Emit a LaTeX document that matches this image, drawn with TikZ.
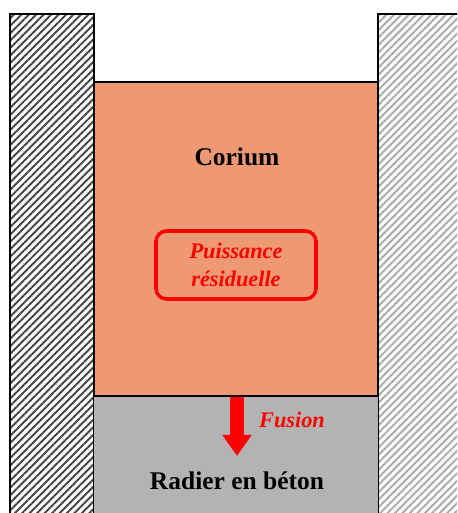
\documentclass[tikz,border=0pt]{standalone}
\usepackage{fontspec}
\setmainfont{Liberation Serif}
\usetikzlibrary{patterns.meta,arrows.meta}
\definecolor{coriumorange}{RGB}{238,152,116}
\definecolor{betongray}{RGB}{179,179,179}
\definecolor{hatchdark}{RGB}{70,70,70}
\definecolor{hatchlight}{RGB}{170,170,170}
\tikzset{
  hatch/.style={fill=white,postaction={pattern={Lines[angle=45,distance=3pt,line width=1.1pt]},pattern color=#1}},
  border/.style={draw=black,line width=1.2pt},
  label/.style={font=\fontsize{14.5}{17}\selectfont\bfseries},
  redtext/.style={text=red,font=\fontsize{12.7}{15.5}\selectfont\bfseries\itshape,align=center}
}
\begin{document}
\begin{tikzpicture}[x=0.02cm,y=-0.02cm]
			\useasboundingbox (0,0) rectangle (457,513);
			\clip (0,0) rectangle (457,513);
			
			% Draw the two walls
			\path[hatch=hatchdark] (10,14) rectangle (94,530);
			\draw[border] (10,530) -- (10,14) -- (94,14) -- (94,530);
			\path[hatch=hatchlight] (378,14) rectangle (470,530);
			\draw[border] (470,14) -- (378,14) -- (378,530);
			
			% Draw the corium and the concrete
			\filldraw[fill=coriumorange,border] (94,82) rectangle (378,396);
			\fill[betongray] (94,396) rectangle (378,530);
			\draw[border] (94,396) -- (378,396);
			
			% Draw the labels
			\node[label] (corium) at (237,157) {Corium};
			\node[redtext,draw=red,line width=2pt,rounded corners=6pt,
				minimum width=160*0.02cm,minimum height=68*0.02cm] (puissance) at (236,265)
				{Puissance\\résiduelle};
			\node[label] (radier) at (237,481) {Radier en béton};
			
			% Draw the melting arrow
			\coordinate (fondtop) at (237,397);
			\coordinate (fondbas) at (237,456);
			\draw[red,line width=8pt,-{Triangle[width=16pt,length=12pt]}] (fondtop) -- (fondbas);
			\node[redtext] (fusion) at (292,420) {Fusion};
		\end{tikzpicture}
\end{document}
